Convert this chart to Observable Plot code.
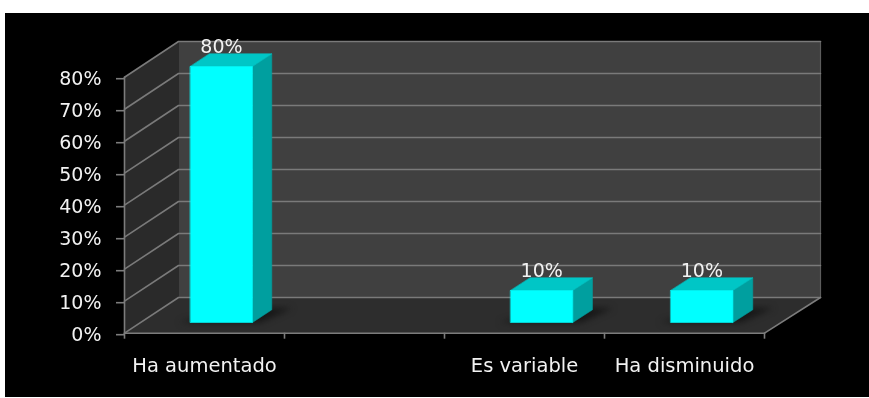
<!DOCTYPE html>
<html>
<head>
<meta charset="utf-8">
<style>
html,body{margin:0;padding:0;background:#fff;width:869px;height:398px;overflow:hidden}
#panel{position:absolute;left:5px;top:13px;width:864px;height:384px;background:#000}
#chart{position:absolute;left:0;top:0;filter:blur(.4px)}
svg{display:block}
</style>
<script src="https://cdn.jsdelivr.net/npm/d3@7"></script>
<script src="https://cdn.jsdelivr.net/npm/@observablehq/plot@0.6"></script>
</head>
<body>
<div id="panel"></div>
<div id="chart"></div>
<script>
const categories = ["Ha aumentado", "", "Es variable", "Ha disminuido"];
const values = [80, null, 10, 10];
const yTicks = [0, 10, 20, 30, 40, 50, 60, 70, 80];
const catEdges = [0, 1, 2, 3, 4];

// Oblique projection of (category position, value, depth 0..1) into data units
const depthY = 11.16;
const X = (c, d) => c + d * (0.3375 + c * 0.003125);
const Y = (v, d) => v + d * depthY;
const barFront = 0.3, barBack = 0.655, half = 0.194, nudge = 0.004;
const maxCat = categories.length, maxV = yTicks[yTicks.length - 1];

const poly = (id, fill, pts) => pts.map(([c, v, d]) => ({id, fill, x: X(c, d), y: Y(v, d)}));

const walls = [
  ...poly("floor", "#2d2d2d", [[0,0,0],[maxCat,0,0],[maxCat,0,1],[0,0,1]]),
  ...poly("side", "#2a2a2a", [[0,0,0],[0,maxV,0],[0,maxV,1],[0,0,1]]),
  ...poly("back", "#404040", [[0,0,1],[maxCat,0,1],[maxCat,maxV,1],[0,maxV,1]])
];
const grid = yTicks.flatMap(v => [[0,v,0],[0,v,1],[maxCat,v,1]].map(([c,w,d]) => ({id: v, x: X(c,d), y: Y(w,d)})));
const edges = [
  [[0,0,0],[0,maxV,0]],
  [[0,0,0],[maxCat,0,0]],
  [[maxCat,0,0],[maxCat,0,1]]
].flatMap((seg, i) => seg.map(([c,v,d]) => ({id: i, x: X(c,d), y: Y(v,d)})));
const backEdge = [[maxCat,0,1],[maxCat,maxV,1]].map(([c,v,d]) => ({x: X(c,d), y: Y(v,d)}));

const bars = categories.map((name, i) => ({name, i, v: values[i]})).filter(b => b.v != null);
const shadows = bars.flatMap(b => {
  const l = b.i + .5 + nudge - half - .07, r = b.i + .5 + nudge + half + .11;
  return poly("s" + b.i, "#171717", [[l,0,barFront],[r - .06,0,barFront],[r,0,barBack + .05],[l + .2,0,barBack + .05]]);
});
const faces = bars.flatMap(b => {
  const l = b.i + .5 + nudge - half, r = b.i + .5 + nudge + half, v = b.v;
  return [
    ...poly("f" + b.i + "r", "#009f9f", [[r,0,barFront],[r,0,barBack],[r,v,barBack],[r,v,barFront]]),
    ...poly("f" + b.i + "t", "#00c6c6", [[l,v,barFront],[r,v,barFront],[r,v,barBack],[l,v,barBack]]),
    ...poly("f" + b.i + "f", "#00ffff", [[l,0,barFront],[r,0,barFront],[r,v,barFront],[l,v,barFront]])
  ];
});
const labels = bars.map(b => ({x: X(b.i + .5 + nudge, barFront), y: Y(b.v, barFront), t: b.v + "%"}));

const font = "'DejaVu Sans', sans-serif";
const chart = Plot.plot({
  width: 869, height: 398,
  marginLeft: 124, marginRight: 49, marginTop: 41, marginBottom: 65.3,
  style: {background: "transparent", fontFamily: font},
  x: {domain: [0, 4.35], label: null},
  y: {domain: [0, maxV + depthY], label: null},
  marks: [
    Plot.line(walls, {x: "x", y: "y", z: "id", fill: "fill", stroke: "none", curve: "linear-closed"}),
    Plot.line(backEdge, {x: "x", y: "y", stroke: "#5c5c5c", strokeWidth: 1.2}),
    Plot.line(grid, {x: "x", y: "y", z: "id", stroke: "#7a7a7a", strokeWidth: 1.6}),
    Plot.line(edges, {x: "x", y: "y", z: "id", stroke: "#7c7c7c", strokeWidth: 1.6}),
    Plot.line(shadows, {x: "x", y: "y", z: "id", fill: "fill", stroke: "none", curve: "linear-closed", imageFilter: "blur(3px)"}),
    Plot.line(faces, {x: "x", y: "y", z: "id", fill: "fill", stroke: "fill", strokeWidth: .6, strokeLinejoin: "round", curve: "linear-closed"}),
    Plot.axisY({ticks: yTicks, tickSize: 8, tickPadding: 15, tickFormat: d => d + "%", stroke: "#7c7c7c", fill: "#f2f2f2", fontSize: 19, dy: 1.5, label: null, strokeWidth: 1.6}),
    Plot.axisX({ticks: catEdges, tickSize: 6, tickFormat: () => "", stroke: "#7c7c7c", label: null, strokeWidth: 1.6}),
    Plot.axisX({ticks: categories.map((_, i) => i + .5), tickSize: 0, tickPadding: 25, tickFormat: d => categories[d - .5], fill: "#f2f2f2", fontSize: 19.5, label: null}),
    Plot.text(labels, {x: "x", y: "y", text: "t", dy: -20, fill: "#f2f2f2", fontSize: 19})
  ]
});
document.getElementById("chart").appendChild(chart);
</script>
</body>
</html>
